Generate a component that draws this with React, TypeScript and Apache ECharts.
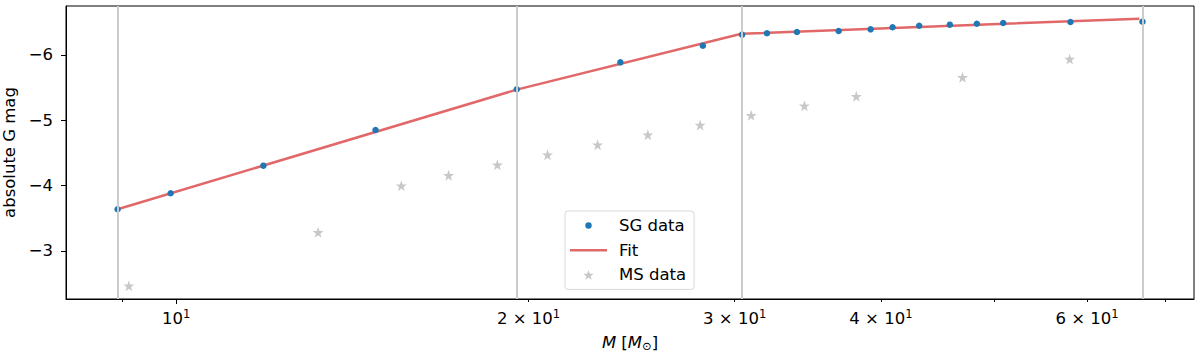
import React, { useEffect, useRef } from 'react';
import * as echarts from 'echarts';

// SG (supergiant) data: mass [Msun] and absolute G magnitude
const sgMass = [8.91, 9.89, 11.87, 14.8, 19.54, 23.96, 28.18, 30.44, 31.97, 33.91, 36.81, 39.2, 40.93, 43.13, 45.81, 48.31, 50.88, 58.08, 66.92];
const sgMag = [-3.638, -3.883, -4.306, -4.852, -5.475, -5.888, -6.142, -6.311, -6.332, -6.352, -6.367, -6.393, -6.424, -6.448, -6.464, -6.479, -6.49, -6.505, -6.51];
// piecewise fit
const fitMass = [8.91, 19.54, 30.4, 66.5];
const fitMag = [-3.638, -5.47, -6.325, -6.556];
// MS data
const msMass = [9.11, 13.22, 15.57, 17.09, 18.81, 20.76, 22.91, 25.29, 28.03, 30.99, 34.41, 38.11, 46.97, 57.99];
const msMag = [-2.469, -3.286, -4.0, -4.159, -4.321, -4.474, -4.627, -4.78, -4.929, -5.077, -5.224, -5.368, -5.659, -5.939];
// fit break points (vertical lines)
const breakMass = [8.91, 19.54, 30.4, 66.92];
// ticks
const xLabelValues = [10, 20, 30, 40, 60];
const xMajorTicks = [10];
const xMinorTicks = [9, 20, 30, 40, 50, 60, 70];
const yTickValues = [-6, -5, -4, -3];

const FONT = 'DejaVu Sans';
const FS = 16.5;
const STAR = 'path://M50,0 L61.8,35.1 L98.1,35.1 L68.8,56.8 L79.4,91 L50,70 L20.6,91 L31.2,56.8 L1.9,35.1 L38.2,35.1 Z';
const DOT_ICON = 'path://M0,0 L0,0 M10,10 L10,10 M1.8,5 A3.2,3.2 0 1,0 8.2,5 A3.2,3.2 0 1,0 1.8,5 Z';
const LINE_ICON = 'path://M0,0 L40,0 L40,2.6 L0,2.6 Z';
const FIT_COLOR = 'rgba(214,39,40,0.7)';

export default function App() {
  const ref = useRef<HTMLDivElement>(null);
  useEffect(() => {
    if (!ref.current) return;
    const chart = echarts.init(ref.current, undefined, { renderer: 'svg' });
    const xMin = 8.05;
    const xMax = 74.06;
    const option: any = {
      animation: false,
      textStyle: { fontFamily: FONT },
      grid: {
        left: 66,
        right: 6,
        top: 6,
        bottom: 54,
        containLabel: false,
        outerBoundsMode: 'none',
        show: true,
        borderColor: '#000',
        borderWidth: 1,
        backgroundColor: 'transparent',
      },
      legend: {
        orient: 'vertical',
        left: 565,
        top: 211,
        padding: [5, 8, 5, 5],
        itemWidth: 37,
        itemHeight: 10,
        itemGap: 5.7,
        backgroundColor: '#fff',
        borderColor: '#d9d9d9',
        borderWidth: 1,
        borderRadius: 3,
        textStyle: { fontFamily: FONT, fontSize: FS, color: '#000', lineHeight: 19, padding: [0, 0, 0, 7] },
        data: [
          { name: 'SG data', icon: DOT_ICON, itemStyle: { color: '#1f77b4', opacity: 1 } },
          { name: 'Fit', icon: LINE_ICON, itemStyle: { color: FIT_COLOR, opacity: 1 } },
          { name: 'MS data', icon: STAR, itemStyle: { color: '#c8c8c8', opacity: 1 } },
        ],
      },
      xAxis: [
        {
          type: 'log',
          logBase: 10,
          min: xMin,
          max: xMax,
          name: '{i|M} [{i|M}{sub|⊙}]',
          nameLocation: 'middle',
          nameGap: 34,
          nameTextStyle: {
            fontFamily: FONT,
            fontSize: FS,
            lineHeight: 19,
            color: '#000',
            rich: {
              i: { fontFamily: FONT, fontSize: FS, lineHeight: 19, fontStyle: 'italic', color: '#000' },
              sub: { fontFamily: FONT, fontSize: 11.5, lineHeight: 12, verticalAlign: 'bottom', color: '#000' },
            },
          },
          axisLine: { show: true, lineStyle: { color: '#000', width: 1 } },
          axisTick: { show: true, customValues: xMajorTicks, length: 5, lineStyle: { color: '#000', width: 1 } },
          minorTick: { show: false },
          splitLine: { show: false },
          axisLabel: {
            customValues: xLabelValues,
            margin: 9,
            fontFamily: FONT,
            fontSize: FS,
            color: '#000',
            formatter: (v: number) => {
              const m = Math.round(v / 10);
              return m === 1 ? '10{sup|1}' : m + ' × 10{sup|1}';
            },
            rich: {
              sup: { fontFamily: FONT, fontSize: 11.5, color: '#000', padding: [0, 0, 8, 0] },
            },
          },
        },
        {
          type: 'log',
          logBase: 10,
          min: xMin,
          max: xMax,
          position: 'bottom',
          axisLine: { show: false },
          axisTick: { show: true, customValues: xMinorTicks, length: 3, lineStyle: { color: '#000', width: 1 } },
          axisLabel: { show: false },
          splitLine: { show: false },
        },
      ],
      yAxis: {
        type: 'value',
        inverse: true,
        min: -6.75,
        max: -2.265,
        name: 'absolute G mag',
        nameLocation: 'middle',
        nameGap: 44,
        nameTextStyle: { fontFamily: FONT, fontSize: FS, color: '#000' },
        axisLine: { show: true, lineStyle: { color: '#000', width: 1 } },
        axisTick: { show: true, customValues: yTickValues, length: 5, lineStyle: { color: '#000', width: 1 } },
        splitLine: { show: false },
        axisLabel: {
          customValues: yTickValues,
          margin: 13,
          fontFamily: FONT,
          fontSize: FS,
          color: '#000',
          formatter: (v: number) => String(v).replace('-', '\u2212'),
        },
      },
      series: [
        {
          name: 'breaks',
          type: 'scatter',
          data: [],
          z: 1,
          markLine: {
            silent: true,
            symbol: 'none',
            label: { show: false },
            lineStyle: { color: '#cccccc', width: 2, type: 'solid' },
            data: breakMass.map((m) => ({ xAxis: m })),
          },
        },
        {
          name: 'MS data',
          type: 'scatter',
          symbol: STAR,
          symbolSize: 11,
          itemStyle: { color: '#c8c8c8', opacity: 1 },
          data: msMass.map((m, i) => [m, msMag[i]]),
          z: 2,
        },
        {
          name: 'Fit',
          type: 'line',
          showSymbol: false,
          symbol: 'none',
          lineStyle: { color: FIT_COLOR, width: 2.5 },
          itemStyle: { color: FIT_COLOR },
          data: fitMass.map((m, i) => [m, fitMag[i]]),
          z: 3,
        },
        {
          name: 'SG data',
          type: 'scatter',
          symbol: 'circle',
          symbolSize: 6.5,
          itemStyle: { color: '#1f77b4', opacity: 1 },
          data: sgMass.map((m, i) => [m, sgMag[i]]),
          z: 4,
        },
      ],
    };
    chart.setOption(option);
    return () => chart.dispose();
  }, []);
  return (
    <div
      ref={ref}
      style={{ position: 'fixed', left: 0, top: 0, width: 1200, height: 353, background: '#fff' }}
    />
  );
}
